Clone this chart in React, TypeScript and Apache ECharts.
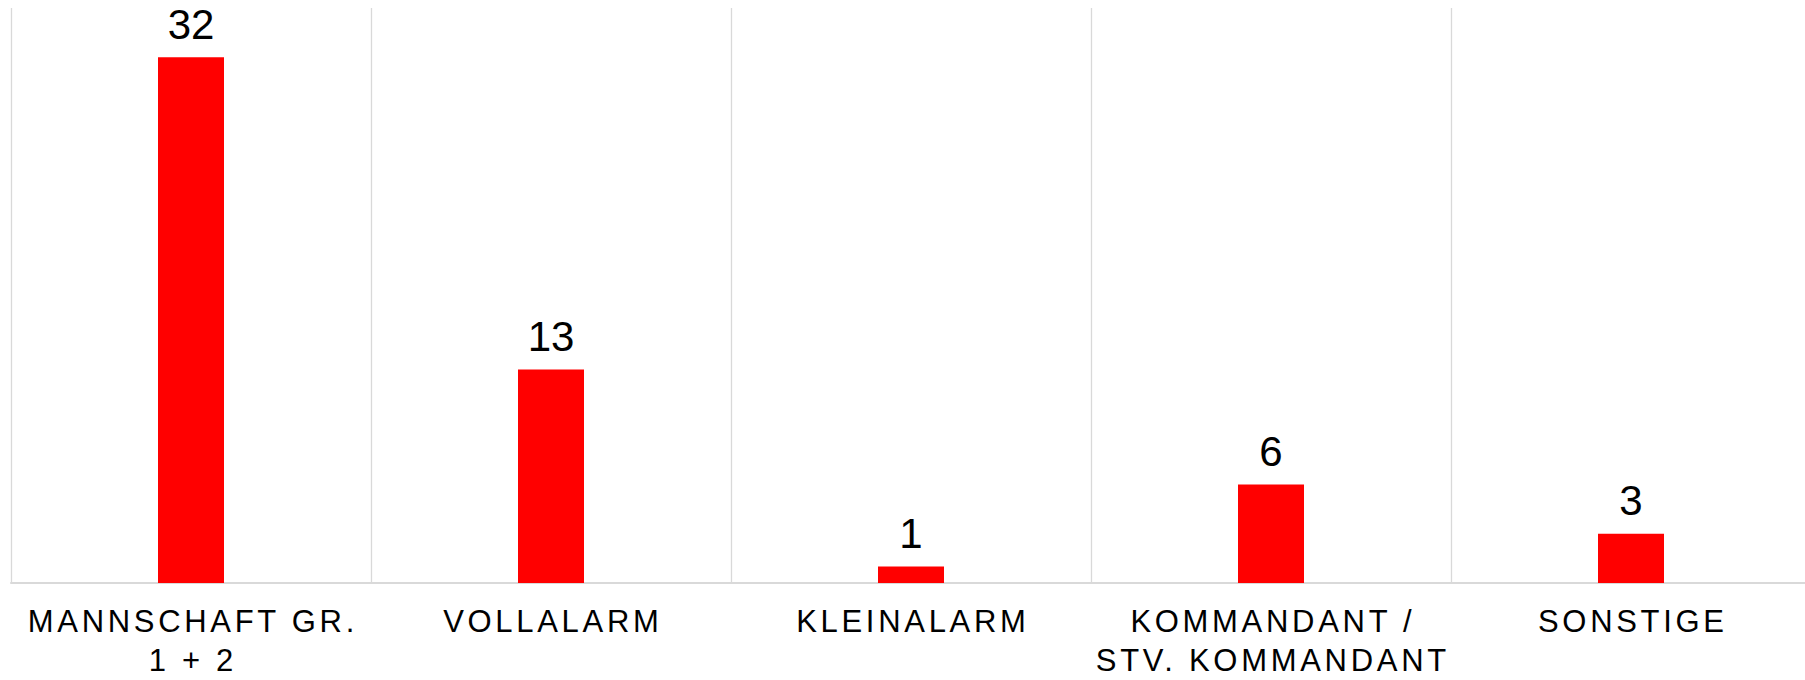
import React, { useEffect, useRef } from "react";
import * as echarts from "echarts";

const categories: string[] = [
  "MANNSCHAFT GR.\n1 + 2",
  "VOLLALARM",
  "KLEINALARM",
  "KOMMANDANT /\nSTV. KOMMANDANT",
  "SONSTIGE",
];
const values: number[] = [32, 13, 1, 6, 3];
const yMax = 35;
const LS = 3.7;

export default function App() {
  const ref = useRef<HTMLDivElement>(null);
  useEffect(() => {
    if (!ref.current) return;
    const chart = echarts.init(ref.current, undefined, { renderer: "svg" });
    chart.setOption({
      animation: false,
      grid: { left: 11, right: 0, top: 8, bottom: 92, containLabel: false },
      xAxis: {
        type: "category",
        data: categories,
        boundaryGap: true,
        axisLine: { show: true, lineStyle: { color: "#d9d9d9", width: 2 } },
        axisTick: { show: false },
        splitLine: { show: true, interval: 0, lineStyle: { color: "#d9d9d9", width: 1.3 } },
        axisLabel: {
          interval: 0,
          margin: 19,
          color: "#000000",
          fontFamily: "Liberation Sans, Arial, sans-serif",
          fontSize: 31,
          lineHeight: 39,
        },
      },
      yAxis: {
        type: "value",
        min: 0,
        max: yMax,
        show: false,
        splitLine: { show: false },
      },
      series: [
        {
          type: "bar",
          data: values,
          barWidth: 66,
          itemStyle: { color: "#ff0000" },
          label: {
            show: true,
            position: "top",
            distance: 12,
            color: "#000000",
            fontFamily: "Liberation Sans, Arial, sans-serif",
            fontSize: 42,
          },
        },
      ],
    });
    const texts = ref.current.querySelectorAll("text");
    texts.forEach((t) => {
      const s = (t.textContent || "").trim();
      if (s && !/^\d+$/.test(s)) {
        t.setAttribute("letter-spacing", String(LS));
        t.setAttribute("dx", String(LS / 2));
      }
    });
    return () => chart.dispose();
  }, []);
  return (
    <div
      style={{
        position: "absolute",
        left: 0,
        top: 0,
        width: 1805,
        height: 680,
        overflow: "hidden",
      }}
    >
      <div ref={ref} style={{ width: 1811, height: 680 }} />
    </div>
  );
}
